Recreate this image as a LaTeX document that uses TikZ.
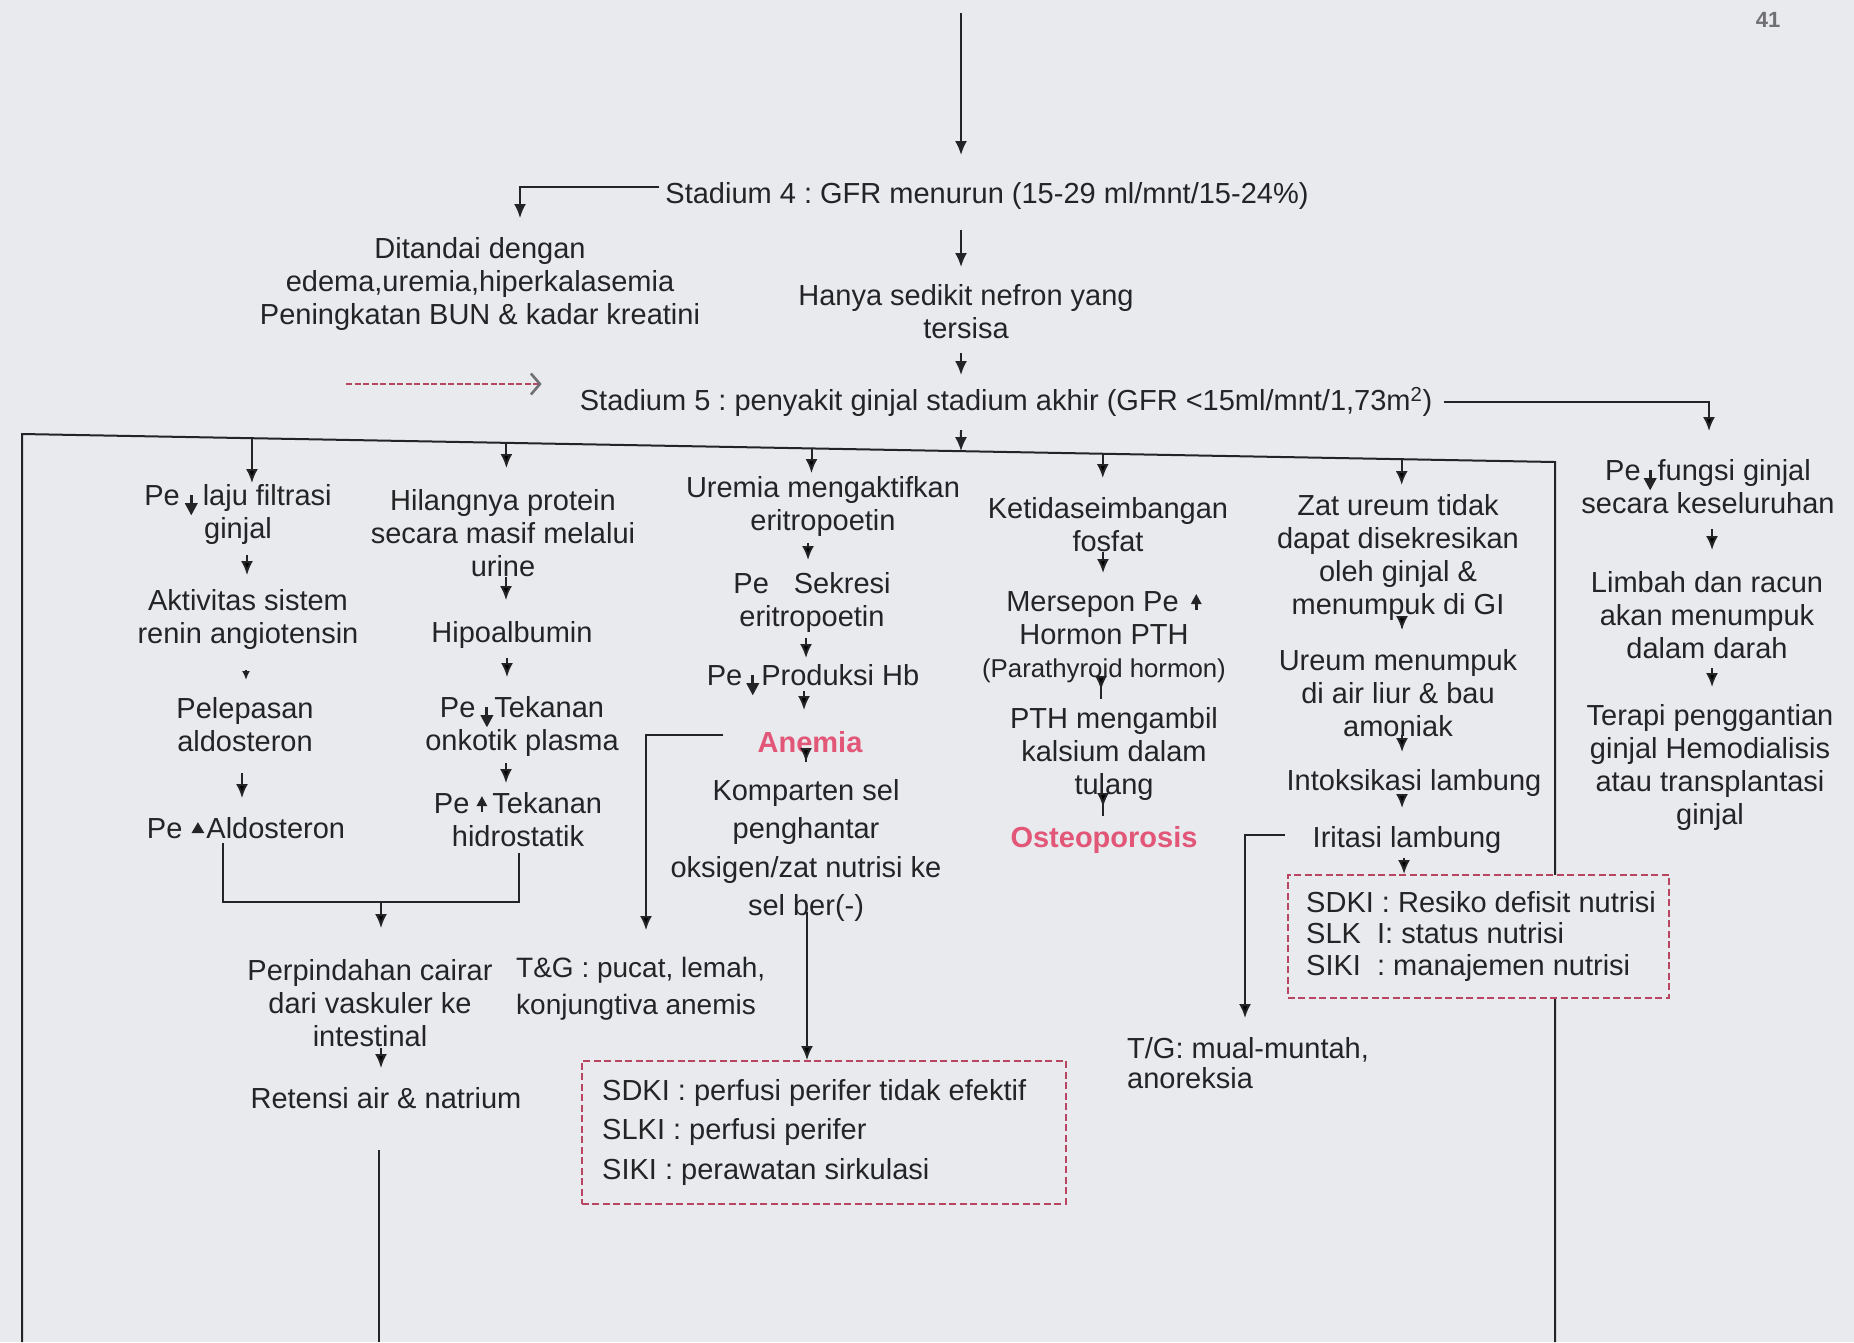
\documentclass[tikz,border=0pt]{standalone}
\usepackage{fontspec}
\setmainfont{Liberation Sans}
\usetikzlibrary{arrows.meta}
\frenchspacing

\definecolor{paper}{RGB}{233,234,238}
\definecolor{ink}{RGB}{36,36,38}
\definecolor{rose}{RGB}{226,86,120}
\definecolor{dashred}{RGB}{184,70,98}
\definecolor{folio}{RGB}{112,112,116}

% small inline symbols: decrease arrow, increase arrow, increase triangle
\newcommand\pedown{\tikz[baseline=0pt]{\draw[line width=3pt] (0pt,10pt) -- (0pt,0pt);\fill (-6.5pt,2pt) -- (6.5pt,2pt) -- (0pt,-10pt) -- cycle;}}
\newcommand\peup{\tikz[baseline=0pt]{\draw[line width=2.8pt] (0pt,1pt) -- (0pt,9pt);\fill (-5.5pt,7pt) -- (5.5pt,7pt) -- (0pt,17pt) -- cycle;}}
\newcommand\petri{\tikz[baseline=0pt]{\fill (-6.5pt,5pt) -- (6.5pt,5pt) -- (0pt,16pt) -- cycle;}}

\begin{document}
\begin{tikzpicture}[x=1pt,y=-1pt,
  lbl/.style={font=\fontsize{29}{33}\selectfont, text=ink, inner sep=0pt, align=center, anchor=north},
  hot/.style={lbl, font=\fontsize{29}{33}\selectfont\bfseries, text=rose},
  flow/.style={draw=ink, line width=2pt, -{Latex[length=14pt,width=12pt]}},
  plainline/.style={draw=ink, line width=2pt},
  dbox/.style={draw=dashred, dash pattern=on 7pt off 3.5pt, line width=1.8pt, fill=paper, inner sep=0pt, anchor=north west},
  reddash/.style={draw=dashred, dash pattern=on 6pt off 2.5pt, line width=2.2pt,
    -{Straight Barb[length=9pt,width=21pt,line width=2.6pt,color=folio]}}
]
\fill[paper] (0,0) rectangle (1854,1342);
\useasboundingbox (0,0) rectangle (1854,1342);

% page number
\node[font=\fontsize{22}{24}\selectfont\bfseries, text=folio, inner sep=0pt] (pg) at (1768,20) {41};

% stage 4 and stage 5
\coordinate (src) at (961,13);
\node[lbl] (s4) at (987,182) {Stadium 4 : GFR menurun (15-29 ml/mnt/15-24\%)};
\node[lbl] (dit) at (480,237) {Ditandai dengan\\edema,uremia,hiperkalasemia\\Peningkatan BUN \& kadar kreatini};
\node[lbl] (hanya) at (966,284) {Hanya sedikit nefron yang\\tersisa};
\node[lbl] (s5) at (1006,387) {Stadium 5 : penyakit ginjal stadium akhir (GFR <15ml/mnt/1,73m\textsuperscript{2})};
\coordinate (rd) at (346,384);

\draw[flow, shorten >=27pt] (src) -- (src |- s4.north);
\draw[flow, shorten <=6pt, shorten >=19pt] ([yshift=8.75pt]s4.west) -| ([xshift=40pt]dit.north);
\draw[flow, shorten <=20.5pt, shorten >=17pt] (src |- s4.south) -- (src |- hanya.north);
\draw[flow, shorten <=14.5pt, shorten >=12pt] (src |- hanya.south) -- (src |- s5.north);
\draw[reddash, shorten >=38pt] (rd) -- (rd -| s5.west);

% frame line with the column branches
\coordinate (hl) at (22,434);
\coordinate (hr) at (1555,462);
\coordinate (bl) at (22,1342);
\coordinate (br) at (1555,1342);
\draw[plainline] (bl) -- (hl) -- (hr) -- (br);
\path (hl) -- (hr)
  coordinate[pos=0.150] (c1) coordinate[pos=0.316] (c2) coordinate[pos=0.515] (c3)
  coordinate[pos=0.705] (c4) coordinate[pos=0.900] (c5) coordinate[pos=0.6125] (cm);
\draw[flow, shorten <=13.5pt] (src |- s5.south) -- (cm);

% column 1
\node[lbl] (n1a) at (238,484) {Pe\hspace{5pt}\pedown\hspace{5pt}laju filtrasi\\ginjal};
\node[lbl] (n1b) at (248,589) {Aktivitas sistem\\renin angiotensin};
\node[lbl] (n1c) at (245,697) {Pelepasan\\aldosteron};
\node[lbl] (n1d) at (246,817) {Pe\hspace{9pt}\petri\hspace{2pt}Aldosteron};
\node[lbl] (n1e) at (370,959) {Perpindahan cairar\\dari vaskuler ke\\intestinal};
\node[lbl] (n1f) at (386,1087) {Retensi air \& natrium};
\coordinate (jn) at (381,902);
\coordinate (b1) at (379,1342);

% column 2
\node[lbl] (n2a) at (503,489) {Hilangnya protein\\secara masif melalui\\urine};
\node[lbl] (n2b) at (512,621) {Hipoalbumin};
\node[lbl] (n2c) at (522,696) {Pe\hspace{5pt}\pedown\hspace{1pt}Tekanan\\onkotik plasma};
\node[lbl] (n2d) at (518,792) {Pe\hspace{7pt}\peup\hspace{5pt}Tekanan\\hidrostatik};

% column 3
\node[lbl] (n3a) at (823,476) {Uremia mengaktifkan\\eritropoetin};
\node[lbl] (n3b) at (812,572) {Pe\hspace{25pt}Sekresi\\eritropoetin};
\node[lbl] (n3c) at (813,664) {Pe\hspace{4pt}\pedown\hspace{2pt}Produksi Hb};
\node[hot] (n3d) at (810,731) {Anemia};
\node[lbl, font=\fontsize{29}{38.5}\selectfont] (n3e) at (806,779) {Komparten sel\\penghantar\\oksigen/zat nutrisi ke\\sel ber(-)};
\node[lbl, anchor=north west, align=left, font=\fontsize{28}{37}\selectfont] (tg) at (516,957) {T\&G : pucat, lemah,\\konjungtiva anemis};
\node[dbox, minimum width=484pt, minimum height=143pt] (bx1) at (581,1060) {};
\node[lbl, anchor=west, align=left, font=\fontsize{29}{39.5}\selectfont] (bx1t) at ([xshift=21pt]bx1.west)
  {SDKI : perfusi perifer tidak efektif\\SLKI : perfusi perifer\\SIKI : perawatan sirkulasi};

% column 4
\node[lbl] (n4a) at (1108,497) {Ketidaseimbangan\\fosfat};
\node[lbl] (n4b) at (1104,591) {Mersepon Pe\hspace{12pt}\peup\\Hormon PTH\\{\fontsize{25.8}{33}\selectfont (Parathyroid hormon)}};
\node[lbl] (n4c) at (1114,707) {PTH mengambil\\kalsium dalam\\tulang};
\node[hot] (n4d) at (1104,826) {Osteoporosis};

% column 5
\node[lbl] (n5a) at (1398,494) {Zat ureum tidak\\dapat disekresikan\\oleh ginjal \&\\menumpuk di GI};
\node[lbl] (n5b) at (1398,649) {Ureum menumpuk\\di air liur \& bau\\amoniak};
\node[lbl] (n5c) at (1414,769) {Intoksikasi lambung};
\node[lbl] (n5d) at (1407,826) {Iritasi lambung};
\node[dbox, minimum width=381pt, minimum height=123pt] (bx2) at (1287,874) {};
\node[lbl, anchor=west, align=left, font=\fontsize{29}{31.5}\selectfont] (bx2t) at ([xshift=19pt]bx2.west)
  {SDKI : Resiko defisit nutrisi\\SLK\ \ I: status nutrisi\\SIKI\ \ : manajemen nutrisi};
\node[lbl, anchor=north west, align=left, font=\fontsize{29}{30}\selectfont] (tgm) at (1127,1037) {T/G: mual-muntah,\\anoreksia};

% column 6
\node[lbl] (n6a) at (1708,459) {Pe\hspace{3pt}\pedown\hspace{1pt}fungsi ginjal\\secara keseluruhan};
\node[lbl] (n6b) at (1707,571) {Limbah dan racun\\akan menumpuk\\dalam darah};
\node[lbl] (n6c) at (1710,704) {Terapi penggantian\\ginjal Hemodialisis\\atau transplantasi\\ginjal};

% branches from the frame line
\draw[flow, shorten >=1pt] (c1) -- (c1 |- n1a.north);
\draw[flow, shorten >=21pt] (c2) -- (c2 |- n2a.north);
\draw[flow, shorten >=3pt] (c3) -- (c3 |- n3a.north);
\draw[flow, shorten >=19pt] (c4) -- (c4 |- n4a.north);
\draw[flow, shorten >=9pt] (c5) -- (c5 |- n5a.north);
\draw[flow, shorten <=12pt, shorten >=28pt] (s5.east) -| ([xshift=1pt]n6a.north);

% column 1 chain
\draw[flow, shorten <=10.5pt, shorten >=14pt] ([xshift=9pt]n1a.south) -- ([xshift=9pt]n1a.south |- n1b.north);
\draw[flow, shorten <=21pt, shorten >=17pt, -{Latex[length=9pt,width=8pt]}] ([xshift=-2pt]n1b.south) -- ([xshift=-2pt]n1b.south |- n1c.north);
\draw[flow, shorten <=21.5pt, shorten >=19pt] ([xshift=-3pt]n1c.south) -- ([xshift=-3pt]n1c.south |- n1d.north);
\draw[plainline, shorten <=4.5pt, shorten >=6.5pt] ([xshift=-23pt]n1d.south) |- (jn) -| ([xshift=1pt]n2d.south);
\draw[flow, shorten >=31pt] (jn) -- (jn |- n1e.north);
\draw[flow, shorten <=1.5pt, shorten >=19pt] ([xshift=11pt]n1e.south) -- ([xshift=11pt]n1e.south |- n1f.north);
\draw[plainline, shorten <=41.5pt] (b1 |- n1f.south) -- (b1);

% column 2 chain
\draw[flow, shorten <=0.5pt, shorten >=21pt] ([xshift=3pt]n2a.south) -- ([xshift=3pt]n2a.south |- n2b.north);
\draw[flow, shorten <=9.5pt, shorten >=19pt] ([xshift=-5pt]n2b.south) -- ([xshift=-5pt]n2b.south |- n2c.north);
\draw[flow, shorten <=6.5pt, shorten >=9pt] ([xshift=-16pt]n2c.south) -- ([xshift=-16pt]n2c.south |- n2d.north);

% column 3 chain
\draw[flow, shorten <=6.5pt, shorten >=12pt] ([xshift=-15pt]n3a.south) -- ([xshift=-15pt]n3a.south |- n3b.north);
\draw[flow, shorten <=5.5pt, shorten >=6pt] ([xshift=-6pt]n3b.south) -- ([xshift=-6pt]n3b.south |- n3c.north);
\draw[flow, shorten <=-4.5pt, shorten >=21pt] ([xshift=-9pt]n3c.south) -- ([xshift=-9pt]n3c.south |- n3d.north);
\draw[flow, shorten <=-9.5pt, shorten >=17pt] ([xshift=-4pt]n3d.south) -- ([xshift=-4pt]n3d.south |- n3e.north);
\draw[flow, shorten <=34pt, shorten >=27pt] ([yshift=7pt]n3d.west) -| ([xshift=130pt]tg.north west);
\draw[flow, shorten <=-9.5pt] ([xshift=1pt]n3e.south) -- ([xshift=1pt]n3e.south |- bx1.north);

% column 4 chain
\draw[flow, shorten <=0.5pt, shorten >=18pt] ([xshift=-5pt]n4a.south) -- ([xshift=-5pt]n4a.south |- n4b.north);
\draw[flow, shorten <=-16pt, shorten >=17pt] ([xshift=-3pt]n4b.south) -- ([xshift=-3pt]n4b.south |- n4c.north);
\draw[flow, shorten <=-15.5pt, shorten >=19pt] ([xshift=-11pt]n4c.south) -- ([xshift=-11pt]n4c.south |- n4d.north);

% column 5 chain
\draw[flow, shorten <=-7.5pt, shorten >=19pt] ([xshift=4pt]n5a.south) -- ([xshift=4pt]n5a.south |- n5b.north);
\draw[flow, shorten <=-1.5pt, shorten >=17pt] ([xshift=4pt]n5b.south) -- ([xshift=4pt]n5b.south |- n5c.north);
\draw[flow, shorten <=-6.5pt, shorten >=18pt] ([xshift=-12pt]n5c.south) -- ([xshift=-12pt]n5c.south |- n5d.north);
\draw[flow, shorten <=4.5pt] ([xshift=-3pt]n5d.south) -- ([xshift=-3pt]n5d.south |- bx2.north);
\draw[flow, shorten <=28pt, shorten >=19pt] ([yshift=4.75pt]n5d.west) -| ([xshift=118pt]tgm.north west);

% column 6 chain
\draw[flow, shorten <=15.5pt, shorten >=21pt] ([xshift=4pt]n6a.south) -- ([xshift=4pt]n6a.south |- n6b.north);
\draw[flow, shorten <=9.5pt, shorten >=17pt] ([xshift=5pt]n6b.south) -- ([xshift=5pt]n6b.south |- n6c.north);
\end{tikzpicture}
\end{document}
